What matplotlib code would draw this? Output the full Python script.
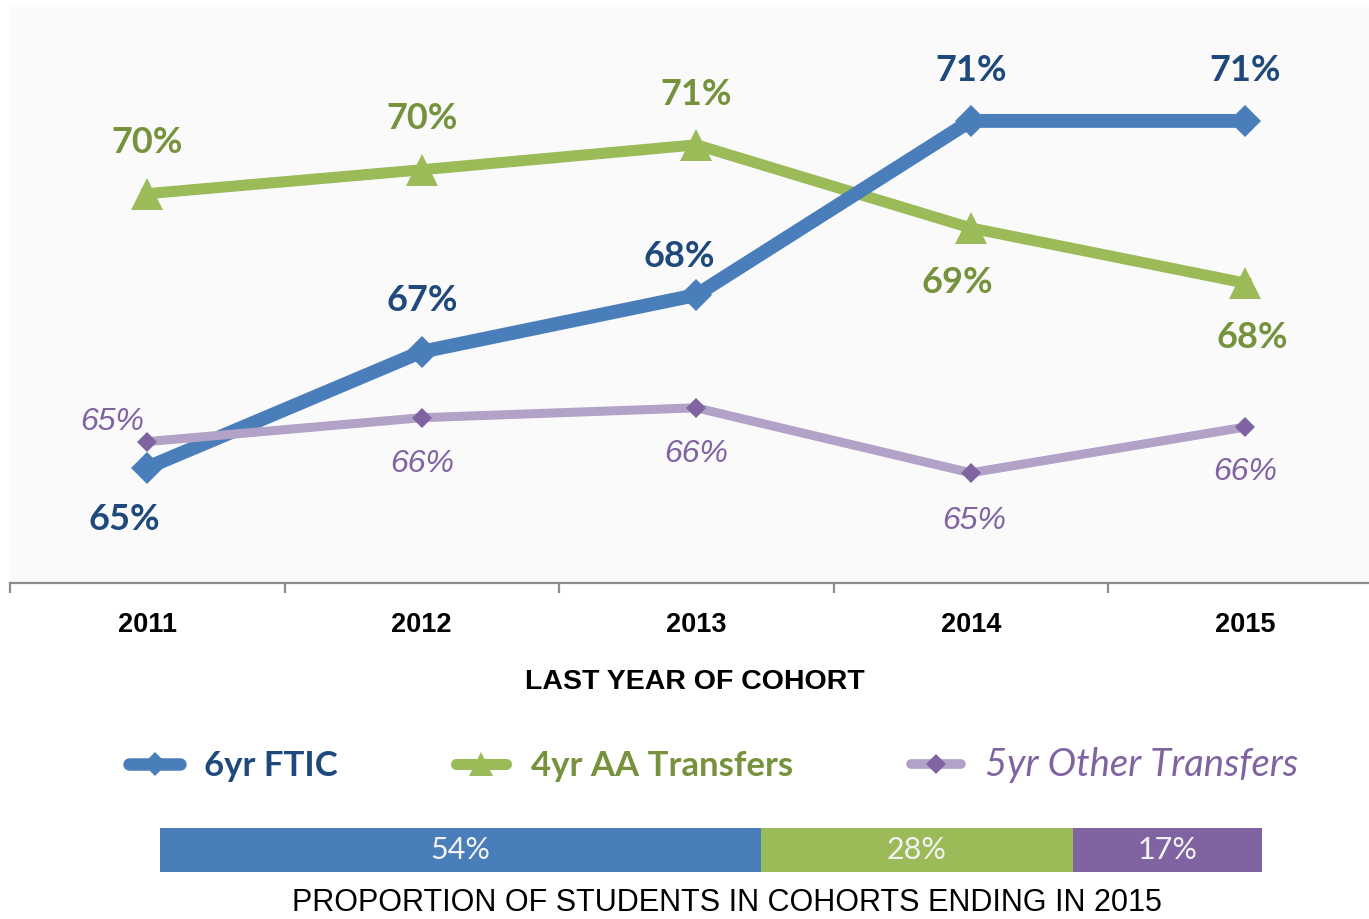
import matplotlib
matplotlib.use("Agg")
import matplotlib.pyplot as plt
from matplotlib.lines import Line2D

# ---------------- data ----------------
years = [2011, 2012, 2013, 2014, 2015]
ftic = [64.73, 66.96, 68.05, 71.40, 71.40]
ftic_labels = ["65%", "67%", "68%", "71%", "71%"]
aa = [70.00, 70.46, 70.94, 69.34, 68.28]
aa_labels = ["70%", "70%", "71%", "69%", "68%"]
other = [65.23, 65.69, 65.88, 64.63, 65.51]
other_labels = ["65%", "66%", "66%", "65%", "66%"]

series_names = ["6yr FTIC", "4yr AA Transfers", "5yr Other Transfers"]
share_values = [54, 28, 17]
share_labels = ["54%", "28%", "17%"]
xlabel_text = "LAST YEAR OF COHORT"
caption_text = "PROPORTION OF STUDENTS IN COHORTS ENDING IN 2015"

# ---------------- style ----------------
BLUE = "#4A7EBB"
BLUE_TXT = "#1F497D"
GREEN = "#9BBB59"
GREEN_TXT = "#76923C"
PURPLE_LINE = "#B3A2C7"
PURPLE = "#8064A2"

NARROW = ["Liberation Sans Narrow", "Liberation Sans", "DejaVu Sans"]
HUMAN = ["Lato", "Open Sans", "DejaVu Sans"]

W, H = 1369, 919
fig = plt.figure(figsize=(W / 100, H / 100), dpi=100)
fig.patch.set_facecolor("white")

def frac(x0, y0, x1, y1):
    return [x0 / W, 1 - y1 / H, (x1 - x0) / W, (y1 - y0) / H]

ax = fig.add_axes(frac(10, 5, 10 + 5 * 274.5, 583))
ax.set_facecolor("#FAFAFA")
ax.set_xlim(2010.5, 2015.5)
ax.set_ylim(62.51, 73.63)

ax.plot(years, aa, color=GREEN, lw=8, marker="^", ms=23,
        markerfacecolor=GREEN, markeredgewidth=0, zorder=2,
        solid_joinstyle="round")
ax.plot(years, ftic, color=BLUE, lw=10, marker="D", ms=16.5,
        markerfacecolor=BLUE, markeredgewidth=0, zorder=3,
        solid_joinstyle="round")
ax.plot(years, other, color=PURPLE_LINE, lw=6.5, marker="D", ms=10,
        markerfacecolor=PURPLE, markeredgewidth=0, zorder=4,
        solid_joinstyle="round")

# data labels (offsets in pixels)
ftic_off = [(-23, -52), (0, 51), (-17, 39), (0, 50), (0, 50)]
aa_off = [(0, 51), (0, 51), (0, 50), (-13, -55), (7, -54)]
oth_off = [(-35, 20), (0, -46), (0, -46), (3, -48), (0, -45)]

for x, y, t, o in zip(years, ftic, ftic_labels, ftic_off):
    ax.annotate(t, (x, y), xytext=o, textcoords="offset pixels", ha="center",
                va="center", color=BLUE_TXT, fontsize=26, fontweight="bold",
                family=HUMAN, zorder=6)
for x, y, t, o in zip(years, aa, aa_labels, aa_off):
    ax.annotate(t, (x, y), xytext=o, textcoords="offset pixels", ha="center",
                va="center", color=GREEN_TXT, fontsize=26, fontweight="bold",
                family=HUMAN, zorder=6)
for x, y, t, o in zip(years, other, other_labels, oth_off):
    ax.annotate(t, (x, y), xytext=o, textcoords="offset pixels", ha="center",
                va="center", color=PURPLE, fontsize=23, fontstyle="italic",
                family=NARROW, zorder=6)

# axes styling
for s in ["top", "right", "left"]:
    ax.spines[s].set_visible(False)
ax.spines["bottom"].set_color("#8C8C8C")
ax.spines["bottom"].set_linewidth(1.6)
ax.set_yticks([])
ax.set_xticks(years)
ax.set_xticklabels([str(y) for y in years])
ax.set_xticks([y - 0.5 for y in years] + [2015.5], minor=True)
ax.tick_params(axis="x", which="major", length=0, pad=21)
ax.tick_params(axis="x", which="minor", length=7.5, width=1.6, color="#8C8C8C",
               direction="out")
for lbl in ax.get_xticklabels():
    lbl.set_family(NARROW)
    lbl.set_fontweight("bold")
    lbl.set_fontsize(19.5)
    lbl.set_color("black")

fig.text(695 / W, 1 - 682 / H, xlabel_text, ha="center", va="center",
         fontsize=20.5, fontweight="bold", family=NARROW, color="black")

# legend
h_ftic = Line2D([], [], color=BLUE, lw=9, marker="D", ms=12.5,
                markerfacecolor=BLUE, markeredgewidth=0, solid_capstyle="round")
h_aa = Line2D([], [], color=GREEN, lw=8, marker="^", ms=17,
              markerfacecolor=GREEN, markeredgewidth=0, solid_capstyle="round")
h_oth = Line2D([], [], color=PURPLE_LINE, lw=7, marker="D", ms=10,
               markerfacecolor=PURPLE, markeredgewidth=0, solid_capstyle="round")
leg = fig.legend([h_ftic, h_aa, h_oth], series_names, loc="center",
                 bbox_to_anchor=(714 / W, 1 - 765 / H), ncol=3, frameon=False,
                 handlelength=1.45, handletextpad=0.7,
                 columnspacing=3.4, prop={"family": HUMAN, "size": 25})
texts = leg.get_texts()
styles = [(BLUE_TXT, "bold", "normal", 25), (GREEN_TXT, "bold", "normal", 25),
          (PURPLE, "normal", "italic", 27.5)]
for t, (c, wgt, sty, sz) in zip(texts, styles):
    t.set_color(c)
    t.set_fontweight(wgt)
    t.set_fontstyle(sty)
    t.set_fontsize(sz)

# proportion bar
ax2 = fig.add_axes(frac(160, 828, 1262, 872))
left = 0
for v, c, lab in zip(share_values, [BLUE, GREEN, PURPLE], share_labels):
    bars = ax2.barh([0], [v], left=left, color=c, height=1.0, edgecolor="none")
    ax2.bar_label(bars, labels=[lab], label_type="center", color="#F2F2F2",
                  fontsize=22, family=HUMAN)
    left += v
ax2.set_xlim(0, sum(share_values))
ax2.set_ylim(-0.5, 0.5)
ax2.axis("off")

fig.text(727 / W, 1 - 903 / H, caption_text, ha="center", va="center",
         fontsize=22, family=NARROW, color="black")

fig.savefig("out.png", dpi=100, facecolor="white")
